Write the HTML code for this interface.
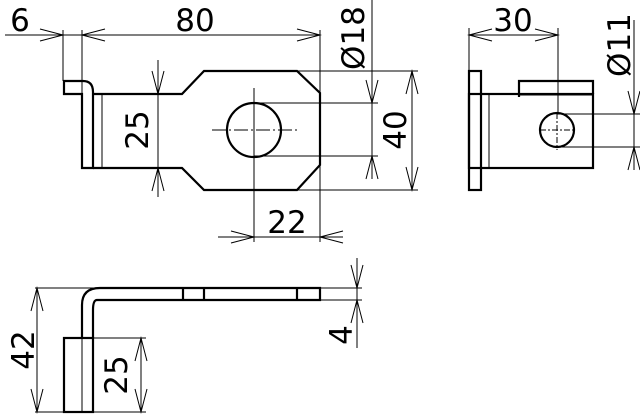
<!DOCTYPE html>
<html><head><meta charset="utf-8"><style>
html,body{margin:0;padding:0;background:#fff;}
svg{display:block;}
text{font-family:"DejaVu Sans","Liberation Sans",sans-serif;font-size:31px;fill:#000;}
</style></head><body>
<svg width="640" height="414" viewBox="0 0 640 414" xmlns="http://www.w3.org/2000/svg">
<g fill="none" stroke="#000" stroke-width="1">
<line x1="5" y1="35" x2="320" y2="35"/>
<line x1="63" y1="30" x2="63" y2="81"/>
<line x1="82" y1="30" x2="82" y2="94"/>
<line x1="320" y1="30" x2="320" y2="242"/>
<polyline points="40,29 63,35 40,41"/>
<polyline points="105,29 82,35 105,41"/>
<polyline points="297,29 320,35 297,41"/>
<line x1="158" y1="60" x2="158" y2="197"/>
<polyline points="152,71 158,94 164,71"/>
<polyline points="152,191 158,168 164,191"/>
<line x1="102" y1="94" x2="102" y2="168"/>
<line x1="254" y1="88" x2="254" y2="242"/>
<line x1="212" y1="130" x2="297" y2="130" stroke-dasharray="14,3,2,3"/>
<line x1="218" y1="237" x2="343" y2="237"/>
<polyline points="231,231 254,237 231,243"/>
<polyline points="343,231 320,237 343,243"/>
<line x1="297" y1="71" x2="418" y2="71"/>
<line x1="254" y1="103" x2="378" y2="103"/>
<line x1="254" y1="156" x2="378" y2="156"/>
<line x1="297" y1="190" x2="418" y2="190"/>
<line x1="372" y1="0" x2="372" y2="179"/>
<polyline points="366,80 372,103 378,80"/>
<polyline points="366,179 372,156 378,179"/>
<line x1="412" y1="71" x2="412" y2="190"/>
<polyline points="406,94 412,71 418,94"/>
<polyline points="406,167 412,190 418,167"/>
<line x1="469" y1="35" x2="558" y2="35"/>
<line x1="469" y1="28" x2="469" y2="71"/>
<line x1="558" y1="28" x2="558" y2="112"/>
<polyline points="492,29 469,35 492,41"/>
<polyline points="535,29 558,35 535,41"/>
<line x1="489" y1="94" x2="489" y2="168"/>
<line x1="557" y1="114" x2="640" y2="114"/>
<line x1="557" y1="147" x2="640" y2="147"/>
<line x1="540" y1="130" x2="574" y2="130" stroke-dasharray="6,2,2,2"/>
<line x1="557" y1="113" x2="557" y2="150" stroke-dasharray="6,2,2,2"/>
<line x1="634" y1="20" x2="634" y2="170"/>
<polyline points="628,91 634,114 640,91"/>
<polyline points="628,170 634,147 640,170"/>
<line x1="519" y1="95" x2="593" y2="95"/>
<line x1="35" y1="288" x2="100" y2="288"/>
<line x1="320" y1="288" x2="362" y2="288"/>
<line x1="320" y1="300" x2="362" y2="300"/>
<line x1="35" y1="412" x2="146" y2="412"/>
<line x1="93" y1="338" x2="146" y2="338"/>
<line x1="82" y1="338" x2="82" y2="412"/>
<line x1="37" y1="288" x2="37" y2="412"/>
<polyline points="31,311 37,288 43,311"/>
<polyline points="31,389 37,412 43,389"/>
<line x1="141" y1="338" x2="141" y2="412"/>
<polyline points="135,361 141,338 147,361"/>
<polyline points="135,389 141,412 147,389"/>
<line x1="357" y1="258" x2="357" y2="348"/>
<polyline points="351,265 357,288 363,265"/>
<polyline points="351,323 357,300 363,323"/>
</g>
<g fill="none" stroke="#000" stroke-width="2.2" stroke-linejoin="miter">
<path d="M64,94 L64,81 L83,81 Q93,81 93,92 L93,168 L82,168 L82,94 Z"/>
<path d="M93,94 L182,94 L204,71 L297,71 L320,93 L320,165 L297,190 L204,190 L182,168 L93,168"/>
<circle cx="254" cy="130" r="27"/>
<rect x="469" y="71" width="12" height="119"/>
<rect x="469" y="94" width="124" height="74"/>
<path d="M519,97 L519,81 L593,81 L593,94"/>
<circle cx="557" cy="130" r="17"/>
<path d="M82,338 L82,305 Q82,288 100,288 L320,288 L320,300 L97,300 Q93,300 93,310 L93,338"/>
<rect x="64" y="338" width="29" height="74"/>
<line x1="183" y1="288" x2="183" y2="300"/>
<line x1="204" y1="288" x2="204" y2="300"/>
<line x1="297" y1="288" x2="297" y2="300"/>
</g>
<text x="20" y="31" text-anchor="middle">6</text>
<text x="195" y="31" text-anchor="middle">80</text>
<text x="287" y="233" text-anchor="middle">22</text>
<text x="513" y="31" text-anchor="middle">30</text>
<text x="138" y="130" text-anchor="middle" dominant-baseline="central" transform="rotate(-90 138 130)">25</text>
<text x="396" y="130" text-anchor="middle" dominant-baseline="central" transform="rotate(-90 396 130)">40</text>
<text x="354" y="38" text-anchor="middle" dominant-baseline="central" transform="rotate(-90 354 38)">Ø18</text>
<text x="620" y="45" text-anchor="middle" dominant-baseline="central" transform="rotate(-90 620 45)">Ø11</text>
<text x="24" y="350" text-anchor="middle" dominant-baseline="central" transform="rotate(-90 24 350)">42</text>
<text x="117" y="375" text-anchor="middle" dominant-baseline="central" transform="rotate(-90 117 375)">25</text>
<text x="342" y="335" text-anchor="middle" dominant-baseline="central" transform="rotate(-90 342 335)">4</text>
</svg>
</body></html>
